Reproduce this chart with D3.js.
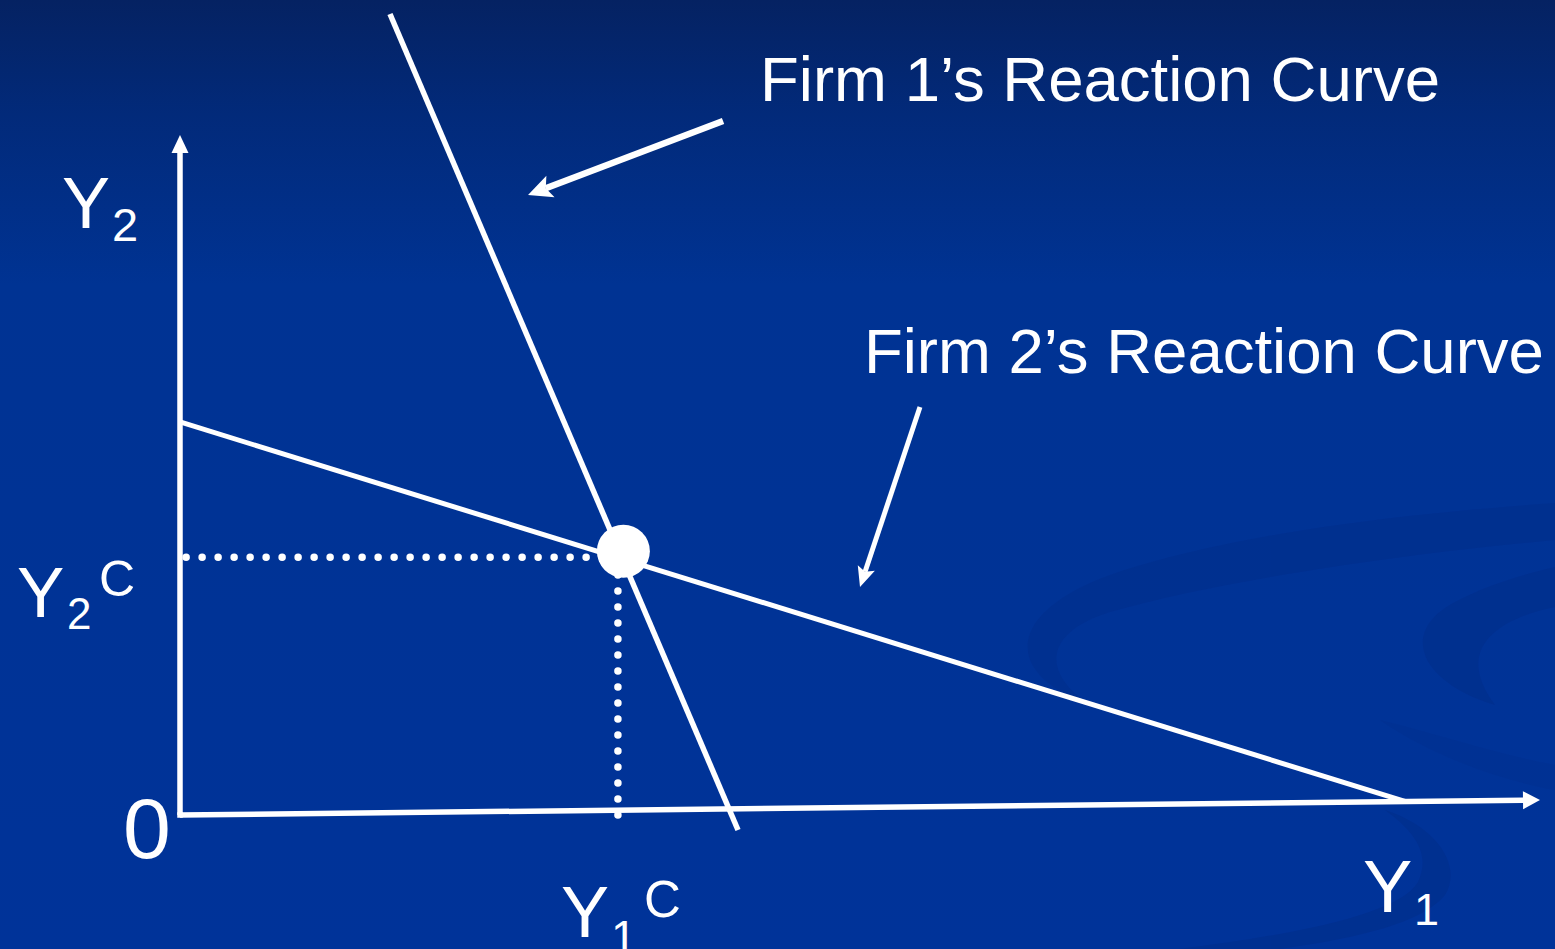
<!DOCTYPE html>
<html>
<head>
<meta charset="utf-8">
<script src="https://cdn.jsdelivr.net/npm/d3@7/dist/d3.min.js"></script>
<style>
  html, body { margin: 0; padding: 0; background: #003399; overflow: hidden; }
  svg { display: block; }
  text { font-family: "Liberation Sans", Arial, Helvetica, sans-serif; fill: #ffffff; }
</style>
</head>
<body>
<svg id="chart" width="1555" height="949"></svg>
<script>
// ---------- data (abstract units: Y1 on x, Y2 on y, 0..100) ----------
const xAxisLine   = [{x: 0, y: 0}, {x: 100, y: 2.2}];
const yAxisLine   = [{x: 0, y: 0}, {x: 0, y: 100}];
const firm1Curve  = [{x: 15.44, y: 117.8}, {x: 41.03, y: -2.2}];
const firm2Curve  = [{x: 0, y: 57.8}, {x: 90.07, y: 2.0}];
const equilibrium = {y1c: 32.2, y2c: 37.9};
const eqMarker    = {x: 32.6, y: 38.8};
const firm1Arrow  = [{x: 39.93, y: 102.06}, {x: 25.59, y: 91.18}];
const firm2Arrow  = [{x: 54.41, y: 60.0}, {x: 50.0, y: 33.53}];
const curveLabels = ["Firm 1’s Reaction Curve", "Firm 2’s Reaction Curve"];
const axisLabels  = {origin: "0", y1: "Y", y1sub: "1", y2: "Y", y2sub: "2", sup: "C"};

// ---------- setup ----------
const W = 1555, H = 949;
const svg = d3.select("#chart");
const x = d3.scaleLinear().domain([0, 100]).range([180, 1540]);
const y = d3.scaleLinear().domain([0, 100]).range([815, 135]);

// background gradient
const defs = svg.append("defs");
const grad = defs.append("linearGradient").attr("id", "bg").attr("x1", 0).attr("y1", 0).attr("x2", 0).attr("y2", 1);
grad.append("stop").attr("offset", "0%").attr("stop-color", "#052262");
grad.append("stop").attr("offset", "12%").attr("stop-color", "#022a7a");
grad.append("stop").attr("offset", "30%").attr("stop-color", "#003393");
grad.append("stop").attr("offset", "100%").attr("stop-color", "#003399");
svg.append("rect").attr("width", W).attr("height", H).attr("fill", "url(#bg)");

// faint decorative swirls
const swirl = svg.append("g").attr("fill", "#002f8d").attr("opacity", 0.7);
swirl.append("path").attr("d",
  "M1090,705 C1000,672 1008,612 1110,575 C1240,530 1430,512 1555,503 L1555,540 C1420,552 1230,578 1110,612 C1045,632 1040,672 1090,705 Z");
swirl.append("path").attr("d",
  "M1495,705 C1420,682 1398,632 1455,602 C1487,585 1525,574 1555,567 L1555,607 C1505,617 1450,645 1495,705 Z");
swirl.append("path").attr("d",
  "M1385,810 C1440,828 1462,868 1445,895 C1415,932 1310,948 1180,960 L1080,960 C1240,944 1395,922 1418,882 C1432,852 1412,830 1385,810 Z");
swirl.append("path").attr("opacity", 0.5).attr("d",
  "M1380,720 C1440,735 1500,755 1555,765 L1555,790 C1500,780 1430,755 1380,720 Z");

const line = d3.line().x(d => x(d.x)).y(d => y(d.y));
const g = svg.append("g");

function arrow(p0, p1, width, len, half, notch) {
  const x0 = x(p0.x), y0 = y(p0.y), x1 = x(p1.x), y1 = y(p1.y);
  const a = Math.atan2(y1 - y0, x1 - x0);
  const c = Math.cos(a), s = Math.sin(a);
  const bx = x1 - len * c, by = y1 - len * s;
  const nx = -s * half, ny = c * half;
  const mx = x1 - (len - notch) * c, my = y1 - (len - notch) * s;
  g.append("line")
    .attr("x1", x0).attr("y1", y0)
    .attr("x2", mx).attr("y2", my)
    .attr("stroke", "#fff").attr("stroke-width", width);
  g.append("path")
    .attr("d", `M${x1},${y1} L${bx + nx},${by + ny} L${mx},${my} L${bx - nx},${by - ny} Z`)
    .attr("fill", "#fff");
}

// axes
arrow(yAxisLine[0], yAxisLine[1], 5.5, 18, 8.5, 0);
arrow(xAxisLine[0], xAxisLine[1], 5.5, 17, 9, 0);
g.append("rect").attr("x", x(0) - 2.75).attr("y", y(0) - 2.75).attr("width", 5.5).attr("height", 5.5).attr("fill", "#fff");

// reaction curves
g.append("path").attr("d", line(firm1Curve)).attr("stroke", "#fff").attr("stroke-width", 5.5).attr("fill", "none");
g.append("path").attr("d", line(firm2Curve)).attr("stroke", "#fff").attr("stroke-width", 5).attr("fill", "none");

// dotted guides
g.append("path")
  .attr("d", line([{x: 0.45, y: equilibrium.y2c}, {x: equilibrium.y1c, y: equilibrium.y2c}]))
  .attr("stroke", "#fff").attr("stroke-width", 7.5).attr("stroke-linecap", "round")
  .attr("stroke-dasharray", "0 16").attr("fill", "none");
g.append("path")
  .attr("d", line([{x: equilibrium.y1c, y: 0}, {x: equilibrium.y1c, y: equilibrium.y2c}]))
  .attr("stroke", "#fff").attr("stroke-width", 7.5).attr("stroke-linecap", "round")
  .attr("stroke-dasharray", "0 16").attr("fill", "none");

// equilibrium marker
g.append("circle").attr("cx", x(eqMarker.x)).attr("cy", y(eqMarker.y)).attr("r", 26.5).attr("fill", "#fff");

// annotation arrows
arrow(firm1Arrow[0], firm1Arrow[1], 6.5, 24, 11.5, 5);
arrow(firm2Arrow[0], firm2Arrow[1], 5, 20, 9, 4);

// curve labels
g.append("text").attr("x", x(firm1Arrow[0].x) + 37).attr("y", 101).attr("font-size", 63.5).text(curveLabels[0]);
g.append("text").attr("x", x(firm2Arrow[0].x) - 56).attr("y", 373).attr("font-size", 63.5).text(curveLabels[1]);

// axis labels
const t = (txt, px, py, fs) => g.append("text").attr("x", px).attr("y", py).attr("font-size", fs).text(txt);
// Y2 at top of y-axis
t(axisLabels.y2, 62, 228, 72);
t(axisLabels.y2sub, 112, 241, 47);
// Y2^C
t(axisLabels.y2, 17, 617, 71);
t(axisLabels.y2sub, 67, 629, 44);
t(axisLabels.sup, 99, 596, 50);
// origin
t(axisLabels.origin, 123, 858, 86);
// Y1^C (cut by the bottom edge, as in the original slide)
t(axisLabels.y1, 561, 937, 72);
t(axisLabels.y1sub, 611, 953, 46);
t(axisLabels.sup, 644, 917, 51);
// Y1 at end of x-axis
t(axisLabels.y1, 1363, 912, 74);
t(axisLabels.y1sub, 1414, 925, 45);
</script>
</body>
</html>
